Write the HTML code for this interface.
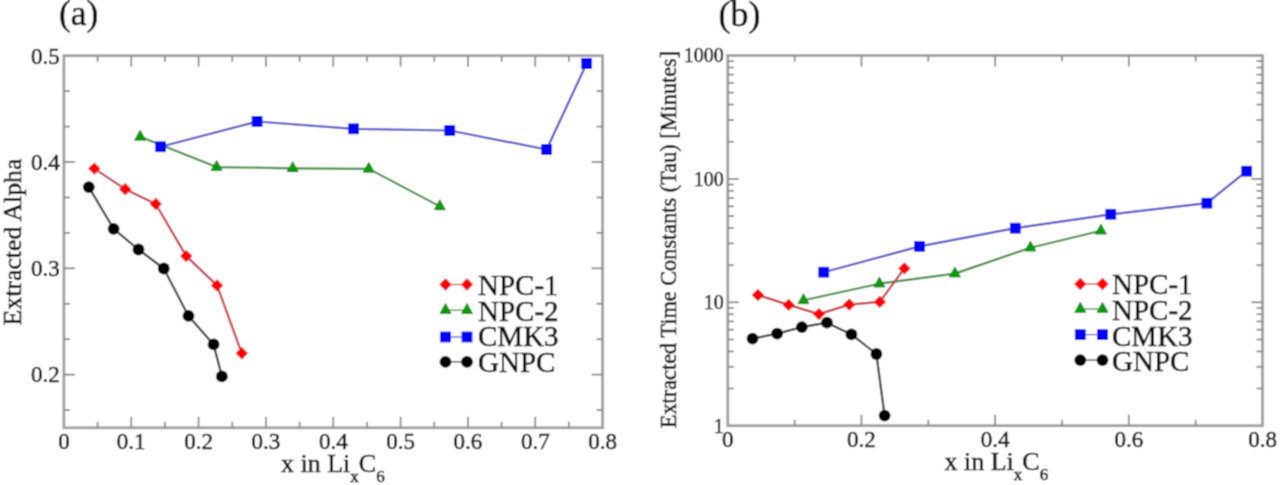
<!DOCTYPE html>
<html><head><meta charset="utf-8"><style>
html,body{margin:0;padding:0;background:#fff;}
body{width:1280px;height:485px;overflow:hidden;}
svg{display:block;}

</style></head><body>
<div id="wrap"><svg width="1280" height="485" viewBox="0 0 1280 485">
<defs><filter id="bl" x="0" y="0" width="1280" height="485" filterUnits="userSpaceOnUse"><feConvolveMatrix order="3" kernelMatrix="1 2 1 2 6 2 1 2 1" edgeMode="duplicate"/></filter></defs>
<g filter="url(#bl)">
<rect width="1280" height="485" fill="#fff"/>
<rect x="63.9" y="55.7" width="538.7" height="372.1" fill="none" stroke="#a0a0a0" stroke-width="2.8"/>
<line x1="97.57" y1="427.8" x2="97.57" y2="421.8" stroke="#8a8a8a" stroke-width="1.8"/>
<line x1="97.57" y1="55.7" x2="97.57" y2="61.7" stroke="#8a8a8a" stroke-width="1.8"/>
<line x1="131.24" y1="427.8" x2="131.24" y2="416.8" stroke="#8a8a8a" stroke-width="1.8"/>
<line x1="131.24" y1="55.7" x2="131.24" y2="66.7" stroke="#8a8a8a" stroke-width="1.8"/>
<line x1="164.91" y1="427.8" x2="164.91" y2="421.8" stroke="#8a8a8a" stroke-width="1.8"/>
<line x1="164.91" y1="55.7" x2="164.91" y2="61.7" stroke="#8a8a8a" stroke-width="1.8"/>
<line x1="198.58" y1="427.8" x2="198.58" y2="416.8" stroke="#8a8a8a" stroke-width="1.8"/>
<line x1="198.58" y1="55.7" x2="198.58" y2="66.7" stroke="#8a8a8a" stroke-width="1.8"/>
<line x1="232.24" y1="427.8" x2="232.24" y2="421.8" stroke="#8a8a8a" stroke-width="1.8"/>
<line x1="232.24" y1="55.7" x2="232.24" y2="61.7" stroke="#8a8a8a" stroke-width="1.8"/>
<line x1="265.91" y1="427.8" x2="265.91" y2="416.8" stroke="#8a8a8a" stroke-width="1.8"/>
<line x1="265.91" y1="55.7" x2="265.91" y2="66.7" stroke="#8a8a8a" stroke-width="1.8"/>
<line x1="299.58" y1="427.8" x2="299.58" y2="421.8" stroke="#8a8a8a" stroke-width="1.8"/>
<line x1="299.58" y1="55.7" x2="299.58" y2="61.7" stroke="#8a8a8a" stroke-width="1.8"/>
<line x1="333.25" y1="427.8" x2="333.25" y2="416.8" stroke="#8a8a8a" stroke-width="1.8"/>
<line x1="333.25" y1="55.7" x2="333.25" y2="66.7" stroke="#8a8a8a" stroke-width="1.8"/>
<line x1="366.92" y1="427.8" x2="366.92" y2="421.8" stroke="#8a8a8a" stroke-width="1.8"/>
<line x1="366.92" y1="55.7" x2="366.92" y2="61.7" stroke="#8a8a8a" stroke-width="1.8"/>
<line x1="400.59" y1="427.8" x2="400.59" y2="416.8" stroke="#8a8a8a" stroke-width="1.8"/>
<line x1="400.59" y1="55.7" x2="400.59" y2="66.7" stroke="#8a8a8a" stroke-width="1.8"/>
<line x1="434.26" y1="427.8" x2="434.26" y2="421.8" stroke="#8a8a8a" stroke-width="1.8"/>
<line x1="434.26" y1="55.7" x2="434.26" y2="61.7" stroke="#8a8a8a" stroke-width="1.8"/>
<line x1="467.93" y1="427.8" x2="467.93" y2="416.8" stroke="#8a8a8a" stroke-width="1.8"/>
<line x1="467.93" y1="55.7" x2="467.93" y2="66.7" stroke="#8a8a8a" stroke-width="1.8"/>
<line x1="501.59" y1="427.8" x2="501.59" y2="421.8" stroke="#8a8a8a" stroke-width="1.8"/>
<line x1="501.59" y1="55.7" x2="501.59" y2="61.7" stroke="#8a8a8a" stroke-width="1.8"/>
<line x1="535.26" y1="427.8" x2="535.26" y2="416.8" stroke="#8a8a8a" stroke-width="1.8"/>
<line x1="535.26" y1="55.7" x2="535.26" y2="66.7" stroke="#8a8a8a" stroke-width="1.8"/>
<line x1="568.93" y1="427.8" x2="568.93" y2="421.8" stroke="#8a8a8a" stroke-width="1.8"/>
<line x1="568.93" y1="55.7" x2="568.93" y2="61.7" stroke="#8a8a8a" stroke-width="1.8"/>
<line x1="63.9" y1="91.14" x2="69.9" y2="91.14" stroke="#8a8a8a" stroke-width="1.8"/>
<line x1="602.6" y1="91.14" x2="596.6" y2="91.14" stroke="#8a8a8a" stroke-width="1.8"/>
<line x1="63.9" y1="126.58" x2="69.9" y2="126.58" stroke="#8a8a8a" stroke-width="1.8"/>
<line x1="602.6" y1="126.58" x2="596.6" y2="126.58" stroke="#8a8a8a" stroke-width="1.8"/>
<line x1="63.9" y1="162.01" x2="74.9" y2="162.01" stroke="#8a8a8a" stroke-width="1.8"/>
<line x1="602.6" y1="162.01" x2="591.6" y2="162.01" stroke="#8a8a8a" stroke-width="1.8"/>
<line x1="63.9" y1="197.45" x2="69.9" y2="197.45" stroke="#8a8a8a" stroke-width="1.8"/>
<line x1="602.6" y1="197.45" x2="596.6" y2="197.45" stroke="#8a8a8a" stroke-width="1.8"/>
<line x1="63.9" y1="232.89" x2="69.9" y2="232.89" stroke="#8a8a8a" stroke-width="1.8"/>
<line x1="602.6" y1="232.89" x2="596.6" y2="232.89" stroke="#8a8a8a" stroke-width="1.8"/>
<line x1="63.9" y1="268.33" x2="74.9" y2="268.33" stroke="#8a8a8a" stroke-width="1.8"/>
<line x1="602.6" y1="268.33" x2="591.6" y2="268.33" stroke="#8a8a8a" stroke-width="1.8"/>
<line x1="63.9" y1="303.77" x2="69.9" y2="303.77" stroke="#8a8a8a" stroke-width="1.8"/>
<line x1="602.6" y1="303.77" x2="596.6" y2="303.77" stroke="#8a8a8a" stroke-width="1.8"/>
<line x1="63.9" y1="339.20" x2="69.9" y2="339.20" stroke="#8a8a8a" stroke-width="1.8"/>
<line x1="602.6" y1="339.20" x2="596.6" y2="339.20" stroke="#8a8a8a" stroke-width="1.8"/>
<line x1="63.9" y1="374.64" x2="74.9" y2="374.64" stroke="#8a8a8a" stroke-width="1.8"/>
<line x1="602.6" y1="374.64" x2="591.6" y2="374.64" stroke="#8a8a8a" stroke-width="1.8"/>
<line x1="63.9" y1="410.08" x2="69.9" y2="410.08" stroke="#8a8a8a" stroke-width="1.8"/>
<line x1="602.6" y1="410.08" x2="596.6" y2="410.08" stroke="#8a8a8a" stroke-width="1.8"/>
<g font-family='"Liberation Serif", serif' fill="#0a0a0a" stroke="#0a0a0a" stroke-width="0.5">
<text x="63.90" y="449" font-size="23" text-anchor="middle" >0</text>
<text x="131.24" y="449" font-size="23" text-anchor="middle" >0.1</text>
<text x="198.58" y="449" font-size="23" text-anchor="middle" >0.2</text>
<text x="265.91" y="449" font-size="23" text-anchor="middle" >0.3</text>
<text x="333.25" y="449" font-size="23" text-anchor="middle" >0.4</text>
<text x="400.59" y="449" font-size="23" text-anchor="middle" >0.5</text>
<text x="467.93" y="449" font-size="23" text-anchor="middle" >0.6</text>
<text x="535.26" y="449" font-size="23" text-anchor="middle" >0.7</text>
<text x="602.60" y="449" font-size="23" text-anchor="middle" >0.8</text>
<text x="59.8" y="382.44" font-size="23" text-anchor="end" >0.2</text>
<text x="59.8" y="276.13" font-size="23" text-anchor="end" >0.3</text>
<text x="59.8" y="169.81" font-size="23" text-anchor="end" >0.4</text>
<text x="59.8" y="63.50" font-size="23" text-anchor="end" >0.5</text>
<text x="59" y="24.7" font-size="35.5" text-anchor="start" >(a)</text>
<text transform="translate(20.6,242) rotate(-90)" font-size="25.8" text-anchor="middle">Extracted Alpha</text>
<text x="281" y="472.3" font-size="26">x in Li<tspan font-size="17" dy="9.8">x</tspan><tspan dy="-9.8">C</tspan><tspan font-size="17" dy="9.8">6</tspan></text>
</g>
<polyline points="140.13,136.80 216.62,167.10 292.71,168.30 368.80,168.90 439.85,206.40" fill="none" stroke="#3c8c3c" stroke-width="2.2" stroke-linejoin="round"/>
<polygon points="140.13,130.13 145.63,140.13 134.63,140.13" fill="#00a000" stroke="#006a00" stroke-width="0.8" stroke-linejoin="round"/>
<polygon points="216.62,160.43 222.12,170.43 211.12,170.43" fill="#00a000" stroke="#006a00" stroke-width="0.8" stroke-linejoin="round"/>
<polygon points="292.71,161.63 298.21,171.63 287.21,171.63" fill="#00a000" stroke="#006a00" stroke-width="0.8" stroke-linejoin="round"/>
<polygon points="368.8,162.23 374.3,172.23 363.3,172.23" fill="#00a000" stroke="#006a00" stroke-width="0.8" stroke-linejoin="round"/>
<polygon points="439.85,199.73 445.35,209.73 434.35,209.73" fill="#00a000" stroke="#006a00" stroke-width="0.8" stroke-linejoin="round"/>
<polyline points="160.53,146.70 257.09,121.50 353.59,128.80 449.74,130.50 546.58,149.50 586.64,63.50" fill="none" stroke="#5050c8" stroke-width="2.2" stroke-linejoin="round"/>
<rect x="155.13" y="141.30" width="10.8" height="10.8" fill="#0000ff"/>
<rect x="251.69" y="116.10" width="10.8" height="10.8" fill="#0000ff"/>
<rect x="348.19" y="123.40" width="10.8" height="10.8" fill="#0000ff"/>
<rect x="444.34" y="125.10" width="10.8" height="10.8" fill="#0000ff"/>
<rect x="541.18" y="144.10" width="10.8" height="10.8" fill="#0000ff"/>
<rect x="581.24" y="58.10" width="10.8" height="10.8" fill="#0000ff"/>
<polyline points="94.27,168.60 125.24,189.20 155.75,204.00 186.25,256.10 217.03,285.40 241.81,353.30" fill="none" stroke="#c83040" stroke-width="2.2" stroke-linejoin="round"/>
<polygon points="94.27,162.4 100.47,168.6 94.27,174.79999999999998 88.07,168.6" fill="#ff0000"/>
<polygon points="125.24,183.0 131.44,189.2 125.24,195.39999999999998 119.03999999999999,189.2" fill="#ff0000"/>
<polygon points="155.75,197.8 161.95,204.0 155.75,210.2 149.55,204.0" fill="#ff0000"/>
<polygon points="186.25,249.90000000000003 192.45,256.1 186.25,262.3 180.05,256.1" fill="#ff0000"/>
<polygon points="217.03,279.2 223.23,285.4 217.03,291.59999999999997 210.83,285.4" fill="#ff0000"/>
<polygon points="241.81,347.1 248.01,353.3 241.81,359.5 235.61,353.3" fill="#ff0000"/>
<polyline points="88.81,187.10 113.60,228.80 138.51,249.50 163.76,268.50 188.47,315.90 213.59,344.40 221.87,376.40" fill="none" stroke="#383838" stroke-width="2.2" stroke-linejoin="round"/>
<circle cx="88.81" cy="187.1" r="5.9" fill="#000000"/>
<circle cx="113.6" cy="228.8" r="5.9" fill="#000000"/>
<circle cx="138.51" cy="249.5" r="5.9" fill="#000000"/>
<circle cx="163.76" cy="268.5" r="5.9" fill="#000000"/>
<circle cx="188.47" cy="315.9" r="5.9" fill="#000000"/>
<circle cx="213.59" cy="344.4" r="5.9" fill="#000000"/>
<circle cx="221.87" cy="376.4" r="5.9" fill="#000000"/>
<line x1="445.5" y1="284.5" x2="467" y2="284.5" stroke="#c83040" stroke-width="1.2"/>
<polygon points="445.5,278.3 451.7,284.5 445.5,290.7 439.3,284.5" fill="#ff0000"/>
<polygon points="467,278.3 473.2,284.5 467,290.7 460.8,284.5" fill="#ff0000"/>
<text x="478" y="295.0" font-family='"Liberation Serif", serif' font-size="29" fill="#0a0a0a" stroke="#0a0a0a" stroke-width="0.5">NPC-1</text>
<line x1="445.5" y1="310.2" x2="467" y2="310.2" stroke="#3c8c3c" stroke-width="1.2"/>
<polygon points="445.5,303.53 451.0,313.53 440.0,313.53" fill="#00a000" stroke="#006a00" stroke-width="0.8" stroke-linejoin="round"/>
<polygon points="467,303.53 472.5,313.53 461.5,313.53" fill="#00a000" stroke="#006a00" stroke-width="0.8" stroke-linejoin="round"/>
<text x="478" y="320.6" font-family='"Liberation Serif", serif' font-size="29" fill="#0a0a0a" stroke="#0a0a0a" stroke-width="0.5">NPC-2</text>
<line x1="445.5" y1="337.0" x2="467" y2="337.0" stroke="#5050c8" stroke-width="1.2"/>
<rect x="440.10" y="331.60" width="10.8" height="10.8" fill="#0000ff"/>
<rect x="461.60" y="331.60" width="10.8" height="10.8" fill="#0000ff"/>
<text x="478" y="346.2" font-family='"Liberation Serif", serif' font-size="29" fill="#0a0a0a" stroke="#0a0a0a" stroke-width="0.5">CMK3</text>
<line x1="445.5" y1="361.8" x2="467" y2="361.8" stroke="#383838" stroke-width="1.2"/>
<circle cx="445.5" cy="361.8" r="5.9" fill="#000000"/>
<circle cx="467" cy="361.8" r="5.9" fill="#000000"/>
<text x="478" y="371.6" font-family='"Liberation Serif", serif' font-size="29" fill="#0a0a0a" stroke="#0a0a0a" stroke-width="0.5">GNPC</text>
<rect x="727.8" y="55.5" width="534.7" height="370.2" fill="none" stroke="#a0a0a0" stroke-width="2.8"/>
<line x1="794.64" y1="425.7" x2="794.64" y2="419.7" stroke="#8a8a8a" stroke-width="1.8"/>
<line x1="794.64" y1="55.5" x2="794.64" y2="61.5" stroke="#8a8a8a" stroke-width="1.8"/>
<line x1="861.47" y1="425.7" x2="861.47" y2="414.7" stroke="#8a8a8a" stroke-width="1.8"/>
<line x1="861.47" y1="55.5" x2="861.47" y2="66.5" stroke="#8a8a8a" stroke-width="1.8"/>
<line x1="928.31" y1="425.7" x2="928.31" y2="419.7" stroke="#8a8a8a" stroke-width="1.8"/>
<line x1="928.31" y1="55.5" x2="928.31" y2="61.5" stroke="#8a8a8a" stroke-width="1.8"/>
<line x1="995.15" y1="425.7" x2="995.15" y2="414.7" stroke="#8a8a8a" stroke-width="1.8"/>
<line x1="995.15" y1="55.5" x2="995.15" y2="66.5" stroke="#8a8a8a" stroke-width="1.8"/>
<line x1="1061.99" y1="425.7" x2="1061.99" y2="419.7" stroke="#8a8a8a" stroke-width="1.8"/>
<line x1="1061.99" y1="55.5" x2="1061.99" y2="61.5" stroke="#8a8a8a" stroke-width="1.8"/>
<line x1="1128.83" y1="425.7" x2="1128.83" y2="414.7" stroke="#8a8a8a" stroke-width="1.8"/>
<line x1="1128.83" y1="55.5" x2="1128.83" y2="66.5" stroke="#8a8a8a" stroke-width="1.8"/>
<line x1="1195.66" y1="425.7" x2="1195.66" y2="419.7" stroke="#8a8a8a" stroke-width="1.8"/>
<line x1="1195.66" y1="55.5" x2="1195.66" y2="61.5" stroke="#8a8a8a" stroke-width="1.8"/>
<line x1="727.8" y1="388.55" x2="733.8" y2="388.55" stroke="#8a8a8a" stroke-width="1.8"/>
<line x1="1262.5" y1="388.55" x2="1256.5" y2="388.55" stroke="#8a8a8a" stroke-width="1.8"/>
<line x1="727.8" y1="366.82" x2="733.8" y2="366.82" stroke="#8a8a8a" stroke-width="1.8"/>
<line x1="1262.5" y1="366.82" x2="1256.5" y2="366.82" stroke="#8a8a8a" stroke-width="1.8"/>
<line x1="727.8" y1="351.41" x2="733.8" y2="351.41" stroke="#8a8a8a" stroke-width="1.8"/>
<line x1="1262.5" y1="351.41" x2="1256.5" y2="351.41" stroke="#8a8a8a" stroke-width="1.8"/>
<line x1="727.8" y1="339.45" x2="733.8" y2="339.45" stroke="#8a8a8a" stroke-width="1.8"/>
<line x1="1262.5" y1="339.45" x2="1256.5" y2="339.45" stroke="#8a8a8a" stroke-width="1.8"/>
<line x1="727.8" y1="329.68" x2="733.8" y2="329.68" stroke="#8a8a8a" stroke-width="1.8"/>
<line x1="1262.5" y1="329.68" x2="1256.5" y2="329.68" stroke="#8a8a8a" stroke-width="1.8"/>
<line x1="727.8" y1="321.41" x2="733.8" y2="321.41" stroke="#8a8a8a" stroke-width="1.8"/>
<line x1="1262.5" y1="321.41" x2="1256.5" y2="321.41" stroke="#8a8a8a" stroke-width="1.8"/>
<line x1="727.8" y1="314.26" x2="733.8" y2="314.26" stroke="#8a8a8a" stroke-width="1.8"/>
<line x1="1262.5" y1="314.26" x2="1256.5" y2="314.26" stroke="#8a8a8a" stroke-width="1.8"/>
<line x1="727.8" y1="307.95" x2="733.8" y2="307.95" stroke="#8a8a8a" stroke-width="1.8"/>
<line x1="1262.5" y1="307.95" x2="1256.5" y2="307.95" stroke="#8a8a8a" stroke-width="1.8"/>
<line x1="727.8" y1="302.30" x2="738.8" y2="302.30" stroke="#8a8a8a" stroke-width="1.8"/>
<line x1="1262.5" y1="302.30" x2="1251.5" y2="302.30" stroke="#8a8a8a" stroke-width="1.8"/>
<line x1="727.8" y1="265.15" x2="733.8" y2="265.15" stroke="#8a8a8a" stroke-width="1.8"/>
<line x1="1262.5" y1="265.15" x2="1256.5" y2="265.15" stroke="#8a8a8a" stroke-width="1.8"/>
<line x1="727.8" y1="243.42" x2="733.8" y2="243.42" stroke="#8a8a8a" stroke-width="1.8"/>
<line x1="1262.5" y1="243.42" x2="1256.5" y2="243.42" stroke="#8a8a8a" stroke-width="1.8"/>
<line x1="727.8" y1="228.01" x2="733.8" y2="228.01" stroke="#8a8a8a" stroke-width="1.8"/>
<line x1="1262.5" y1="228.01" x2="1256.5" y2="228.01" stroke="#8a8a8a" stroke-width="1.8"/>
<line x1="727.8" y1="216.05" x2="733.8" y2="216.05" stroke="#8a8a8a" stroke-width="1.8"/>
<line x1="1262.5" y1="216.05" x2="1256.5" y2="216.05" stroke="#8a8a8a" stroke-width="1.8"/>
<line x1="727.8" y1="206.28" x2="733.8" y2="206.28" stroke="#8a8a8a" stroke-width="1.8"/>
<line x1="1262.5" y1="206.28" x2="1256.5" y2="206.28" stroke="#8a8a8a" stroke-width="1.8"/>
<line x1="727.8" y1="198.01" x2="733.8" y2="198.01" stroke="#8a8a8a" stroke-width="1.8"/>
<line x1="1262.5" y1="198.01" x2="1256.5" y2="198.01" stroke="#8a8a8a" stroke-width="1.8"/>
<line x1="727.8" y1="190.86" x2="733.8" y2="190.86" stroke="#8a8a8a" stroke-width="1.8"/>
<line x1="1262.5" y1="190.86" x2="1256.5" y2="190.86" stroke="#8a8a8a" stroke-width="1.8"/>
<line x1="727.8" y1="184.55" x2="733.8" y2="184.55" stroke="#8a8a8a" stroke-width="1.8"/>
<line x1="1262.5" y1="184.55" x2="1256.5" y2="184.55" stroke="#8a8a8a" stroke-width="1.8"/>
<line x1="727.8" y1="178.90" x2="738.8" y2="178.90" stroke="#8a8a8a" stroke-width="1.8"/>
<line x1="1262.5" y1="178.90" x2="1251.5" y2="178.90" stroke="#8a8a8a" stroke-width="1.8"/>
<line x1="727.8" y1="141.75" x2="733.8" y2="141.75" stroke="#8a8a8a" stroke-width="1.8"/>
<line x1="1262.5" y1="141.75" x2="1256.5" y2="141.75" stroke="#8a8a8a" stroke-width="1.8"/>
<line x1="727.8" y1="120.02" x2="733.8" y2="120.02" stroke="#8a8a8a" stroke-width="1.8"/>
<line x1="1262.5" y1="120.02" x2="1256.5" y2="120.02" stroke="#8a8a8a" stroke-width="1.8"/>
<line x1="727.8" y1="104.61" x2="733.8" y2="104.61" stroke="#8a8a8a" stroke-width="1.8"/>
<line x1="1262.5" y1="104.61" x2="1256.5" y2="104.61" stroke="#8a8a8a" stroke-width="1.8"/>
<line x1="727.8" y1="92.65" x2="733.8" y2="92.65" stroke="#8a8a8a" stroke-width="1.8"/>
<line x1="1262.5" y1="92.65" x2="1256.5" y2="92.65" stroke="#8a8a8a" stroke-width="1.8"/>
<line x1="727.8" y1="82.88" x2="733.8" y2="82.88" stroke="#8a8a8a" stroke-width="1.8"/>
<line x1="1262.5" y1="82.88" x2="1256.5" y2="82.88" stroke="#8a8a8a" stroke-width="1.8"/>
<line x1="727.8" y1="74.61" x2="733.8" y2="74.61" stroke="#8a8a8a" stroke-width="1.8"/>
<line x1="1262.5" y1="74.61" x2="1256.5" y2="74.61" stroke="#8a8a8a" stroke-width="1.8"/>
<line x1="727.8" y1="67.46" x2="733.8" y2="67.46" stroke="#8a8a8a" stroke-width="1.8"/>
<line x1="1262.5" y1="67.46" x2="1256.5" y2="67.46" stroke="#8a8a8a" stroke-width="1.8"/>
<line x1="727.8" y1="61.15" x2="733.8" y2="61.15" stroke="#8a8a8a" stroke-width="1.8"/>
<line x1="1262.5" y1="61.15" x2="1256.5" y2="61.15" stroke="#8a8a8a" stroke-width="1.8"/>
<g font-family='"Liberation Serif", serif' fill="#0a0a0a" stroke="#0a0a0a" stroke-width="0.5">
<text x="727.80" y="447.2" font-size="23" text-anchor="middle" >0</text>
<text x="861.47" y="447.2" font-size="23" text-anchor="middle" >0.2</text>
<text x="995.15" y="447.2" font-size="23" text-anchor="middle" >0.4</text>
<text x="1128.83" y="447.2" font-size="23" text-anchor="middle" >0.6</text>
<text x="1262.50" y="447.2" font-size="23" text-anchor="middle" >0.8</text>
<text x="723.8" y="432.60" font-size="20" text-anchor="end" >1</text>
<text x="723.8" y="309.20" font-size="20" text-anchor="end" >10</text>
<text x="723.8" y="185.80" font-size="20" text-anchor="end" >100</text>
<text x="723.8" y="62.40" font-size="20" text-anchor="end" >1000</text>
<text x="718.5" y="25.6" font-size="36" text-anchor="start" >(b)</text>
<text transform="translate(676,239.5) rotate(-90)" font-size="22.3" text-anchor="middle">Extracted Time Constants (Tau) [Minutes]</text>
<text x="944.5" y="470" font-size="26">x in Li<tspan font-size="17" dy="9.8">x</tspan><tspan dy="-9.8">C</tspan><tspan font-size="17" dy="9.8">6</tspan></text>
</g>
<polyline points="803.46,300.30 879.39,283.70 954.91,273.60 1030.44,247.70 1100.95,230.70" fill="none" stroke="#3c8c3c" stroke-width="2.2" stroke-linejoin="round"/>
<polygon points="803.46,293.63 808.96,303.63 797.96,303.63" fill="#00a000" stroke="#006a00" stroke-width="0.8" stroke-linejoin="round"/>
<polygon points="879.39,277.03 884.89,287.03 873.89,287.03" fill="#00a000" stroke="#006a00" stroke-width="0.8" stroke-linejoin="round"/>
<polygon points="954.91,266.93 960.41,276.93 949.41,276.93" fill="#00a000" stroke="#006a00" stroke-width="0.8" stroke-linejoin="round"/>
<polygon points="1030.44,241.03 1035.94,251.03 1024.94,251.03" fill="#00a000" stroke="#006a00" stroke-width="0.8" stroke-linejoin="round"/>
<polygon points="1100.95,224.03 1106.45,234.03 1095.45,234.03" fill="#00a000" stroke="#006a00" stroke-width="0.8" stroke-linejoin="round"/>
<polyline points="823.71,272.20 919.56,246.40 1015.33,228.20 1110.78,214.30 1206.89,203.20 1246.66,171.20" fill="none" stroke="#5050c8" stroke-width="2.2" stroke-linejoin="round"/>
<rect x="818.31" y="266.80" width="10.8" height="10.8" fill="#0000ff"/>
<rect x="914.16" y="241.00" width="10.8" height="10.8" fill="#0000ff"/>
<rect x="1009.93" y="222.80" width="10.8" height="10.8" fill="#0000ff"/>
<rect x="1105.38" y="208.90" width="10.8" height="10.8" fill="#0000ff"/>
<rect x="1201.49" y="197.80" width="10.8" height="10.8" fill="#0000ff"/>
<rect x="1241.26" y="165.80" width="10.8" height="10.8" fill="#0000ff"/>
<polyline points="757.94,295.00 788.69,304.90 818.97,314.10 849.24,304.60 879.79,301.90 904.38,268.40" fill="none" stroke="#c83040" stroke-width="2.2" stroke-linejoin="round"/>
<polygon points="757.94,288.8 764.1400000000001,295.0 757.94,301.2 751.74,295.0" fill="#ff0000"/>
<polygon points="788.69,298.7 794.8900000000001,304.9 788.69,311.09999999999997 782.49,304.9" fill="#ff0000"/>
<polygon points="818.97,307.90000000000003 825.1700000000001,314.1 818.97,320.3 812.77,314.1" fill="#ff0000"/>
<polygon points="849.24,298.40000000000003 855.44,304.6 849.24,310.8 843.04,304.6" fill="#ff0000"/>
<polygon points="879.79,295.7 885.99,301.9 879.79,308.09999999999997 873.5899999999999,301.9" fill="#ff0000"/>
<polygon points="904.38,262.2 910.58,268.4 904.38,274.59999999999997 898.18,268.4" fill="#ff0000"/>
<polyline points="752.53,338.60 777.13,333.60 801.86,327.10 826.92,322.70 851.45,334.40 876.38,354.00 884.60,415.60" fill="none" stroke="#383838" stroke-width="2.2" stroke-linejoin="round"/>
<circle cx="752.53" cy="338.6" r="5.9" fill="#000000"/>
<circle cx="777.13" cy="333.6" r="5.9" fill="#000000"/>
<circle cx="801.86" cy="327.1" r="5.9" fill="#000000"/>
<circle cx="826.92" cy="322.7" r="5.9" fill="#000000"/>
<circle cx="851.45" cy="334.4" r="5.9" fill="#000000"/>
<circle cx="876.38" cy="354.0" r="5.9" fill="#000000"/>
<circle cx="884.6" cy="415.6" r="5.9" fill="#000000"/>
<line x1="1080.3" y1="284.0" x2="1102.5" y2="284.0" stroke="#c83040" stroke-width="1.2"/>
<polygon points="1080.3,277.8 1086.5,284.0 1080.3,290.2 1074.1,284.0" fill="#ff0000"/>
<polygon points="1102.5,277.8 1108.7,284.0 1102.5,290.2 1096.3,284.0" fill="#ff0000"/>
<text x="1112" y="294.4" font-family='"Liberation Serif", serif' font-size="29" fill="#0a0a0a" stroke="#0a0a0a" stroke-width="0.5">NPC-1</text>
<line x1="1080.3" y1="309.0" x2="1102.5" y2="309.0" stroke="#3c8c3c" stroke-width="1.2"/>
<polygon points="1080.3,302.33 1085.8,312.33 1074.8,312.33" fill="#00a000" stroke="#006a00" stroke-width="0.8" stroke-linejoin="round"/>
<polygon points="1102.5,302.33 1108.0,312.33 1097.0,312.33" fill="#00a000" stroke="#006a00" stroke-width="0.8" stroke-linejoin="round"/>
<text x="1112" y="320.0" font-family='"Liberation Serif", serif' font-size="29" fill="#0a0a0a" stroke="#0a0a0a" stroke-width="0.5">NPC-2</text>
<line x1="1080.3" y1="334.6" x2="1102.5" y2="334.6" stroke="#5050c8" stroke-width="1.2"/>
<rect x="1074.90" y="329.20" width="10.8" height="10.8" fill="#0000ff"/>
<rect x="1097.10" y="329.20" width="10.8" height="10.8" fill="#0000ff"/>
<text x="1112" y="345.6" font-family='"Liberation Serif", serif' font-size="29" fill="#0a0a0a" stroke="#0a0a0a" stroke-width="0.5">CMK3</text>
<line x1="1080.3" y1="360.1" x2="1102.5" y2="360.1" stroke="#383838" stroke-width="1.2"/>
<circle cx="1080.3" cy="360.1" r="5.9" fill="#000000"/>
<circle cx="1102.5" cy="360.1" r="5.9" fill="#000000"/>
<text x="1112" y="371.0" font-family='"Liberation Serif", serif' font-size="29" fill="#0a0a0a" stroke="#0a0a0a" stroke-width="0.5">GNPC</text>
</g>
</svg></div>
</body></html>
